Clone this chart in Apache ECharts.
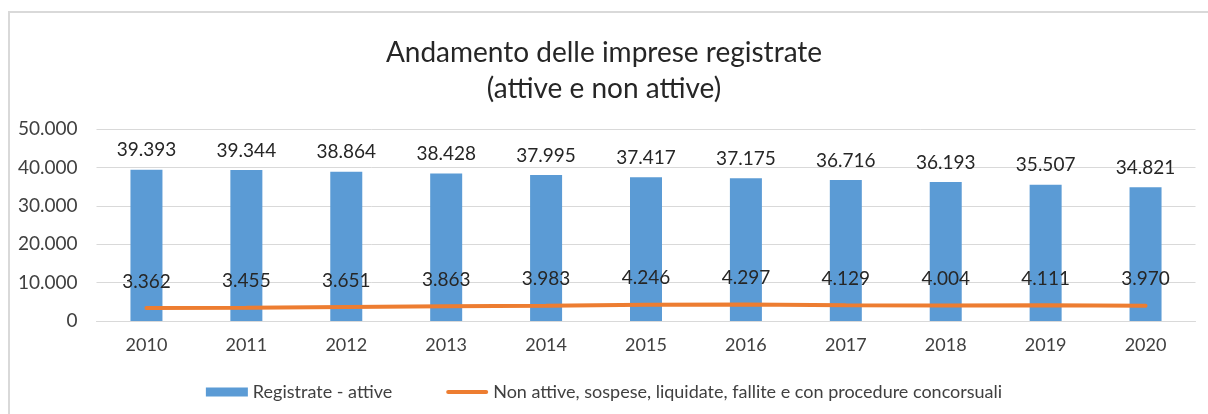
<!DOCTYPE html>
<html>
<head>
<meta charset="utf-8">
<script src="https://cdn.jsdelivr.net/npm/echarts@6/dist/echarts.min.js"></script>
<style>
html,body{margin:0;padding:0;background:#fff;}
#chart{width:1208px;height:414px;}
</style>
</head>
<body>
<div id="chart"></div>
<script>
var years = ['2010','2011','2012','2013','2014','2015','2016','2017','2018','2019','2020'];
var registrateAttive = [39393, 39344, 38864, 38428, 37995, 37417, 37175, 36716, 36193, 35507, 34821];
var nonAttive = [3362, 3455, 3651, 3863, 3983, 4246, 4297, 4129, 4004, 4111, 3970];
var seriesNames = ['Registrate - attive', 'Non attive, sospese, liquidate, fallite e con procedure concorsuali'];

function fmt(v){ return String(v).replace(/\B(?=(\d{3})+(?!\d))/g, '.'); }

var FONT = 'Lato, "Open Sans", sans-serif';
var chart = echarts.init(document.getElementById('chart'), null, {renderer:'canvas'});
chart.setOption({
  backgroundColor: '#ffffff',
  animation: false,
  graphic: [{
    type: 'rect',
    shape: {x: 9, y: 12, width: 1400, height: 600},
    style: {fill: 'none', stroke: '#d9d9d9', lineWidth: 2},
    silent: true, z: -10
  }],
  title: {
    text: 'Andamento delle imprese registrate\n(attive e non attive)',
    left: 'center',
    top: 30,
    textStyle: {fontFamily: FONT, fontSize: 28, fontWeight: 'normal', color: '#262626', lineHeight: 36}
  },
  legend: {
    top: 378,
    left: 'center',
    itemGap: 54,
    itemWidth: 42,
    itemHeight: 9,
    textStyle: {fontFamily: FONT, fontSize: 18, color: '#404040'},
    data: [
      {name: seriesNames[0], icon: 'rect'},
      {name: seriesNames[1], icon: 'path://M2,0 H40 A2,2 0 0 1 40,4 H2 A2,2 0 0 1 2,0 Z'}
    ]
  },
  grid: {left: 96.5, right: 12.5, top: 129, bottom: 93, outerBoundsMode: 'none', containLabel: false},
  xAxis: {
    type: 'category',
    data: years,
    axisLine: {lineStyle: {color: '#d9d9d9', width: 1}},
    axisTick: {show: false},
    axisLabel: {fontFamily: FONT, fontSize: 18, color: '#404040', margin: 15}
  },
  yAxis: {
    type: 'value',
    min: 0, max: 50000, interval: 10000,
    axisLine: {show: false},
    axisTick: {show: false},
    splitLine: {lineStyle: {color: '#d9d9d9', width: 1}},
    axisLabel: {fontFamily: FONT, fontSize: 19, color: '#404040', margin: 19, formatter: fmt}
  },
  series: [{
    name: seriesNames[0],
    type: 'bar',
    data: registrateAttive,
    barWidth: 32,
    itemStyle: {color: '#5B9BD5'},
    label: {show: true, position: 'top', distance: 10, fontFamily: FONT, fontSize: 19, color: '#262626',
      formatter: function(p){ return fmt(p.value); }}
  }, {
    name: seriesNames[1],
    type: 'line',
    data: nonAttive,
    showSymbol: true,
    symbol: 'circle',
    symbolSize: 0,
    lineStyle: {color: '#ED7D31', width: 4, cap: 'round'},
    itemStyle: {color: '#ED7D31'},
    z: 5,
    label: {show: true, position: 'top', distance: 17, fontFamily: FONT, fontSize: 19, color: '#262626',
      formatter: function(p){ return fmt(p.value); }}
  }]
});
</script>
</body>
</html>
